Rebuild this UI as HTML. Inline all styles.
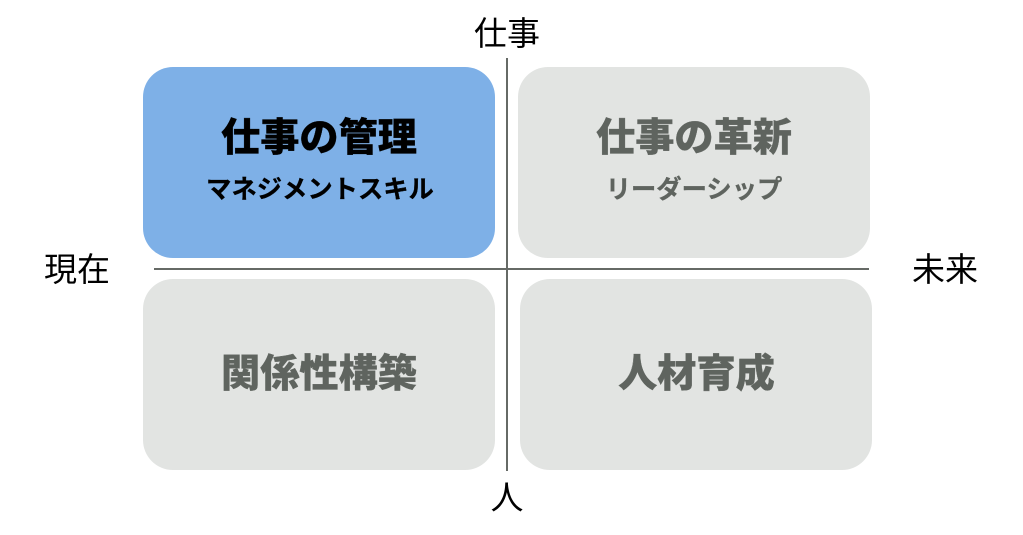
<!DOCTYPE html>
<html lang="ja">
<head>
<meta charset="utf-8">
<style>
html,body{margin:0;padding:0;background:#fff;}
#c{position:relative;width:1023px;height:535px;overflow:hidden;background:#fff;font-family:"Liberation Sans","Noto Sans CJK JP",sans-serif;}
.b{position:absolute;width:352px;height:191px;border-radius:30px;background:#e2e4e2;}
.t{position:absolute;white-space:nowrap;text-align:center;line-height:1;transform:translateX(-50%);}
.h{font-size:39.2px;font-weight:900;color:#5f645f;-webkit-text-stroke:0.3px currentColor;}
.s{font-size:25.3px;font-weight:700;color:#5f645f;-webkit-text-stroke:0.3px currentColor;}
.k{color:#000;}
.l{font-size:33px;font-weight:400;color:#000;}
.ln{position:absolute;background:#666a66;}
</style>
</head>
<body>
<div id="c">
<div class="b" style="left:143px;top:66.5px;background:#7eb0e7;"></div>
<div class="b" style="left:518px;top:66.5px;"></div>
<div class="b" style="left:143px;top:279px;"></div>
<div class="b" style="left:520px;top:279px;"></div>
<div class="ln" style="left:506px;top:58px;width:2px;height:413px;"></div>
<div class="ln" style="left:154px;top:267.5px;width:715px;height:2px;"></div>
<div class="t h k" style="left:319px;top:119px;">仕事の管理</div>
<div class="t s k" style="left:320px;top:178px;">マネジメントスキル</div>
<div class="t h" style="left:694px;top:119px;">仕事の革新</div>
<div class="t s" style="left:694px;top:178px;">リーダーシップ</div>
<div class="t h" style="left:319px;top:355px;">関係性構築</div>
<div class="t h" style="left:696.5px;top:355px;">人材育成</div>
<div class="t l" style="left:507px;top:17px;">仕事</div>
<div class="t l" style="left:507px;top:481px;">人</div>
<div class="t l" style="left:77px;top:253px;">現在</div>
<div class="t l" style="left:945px;top:253px;">未来</div>
</div>
</body>
</html>
